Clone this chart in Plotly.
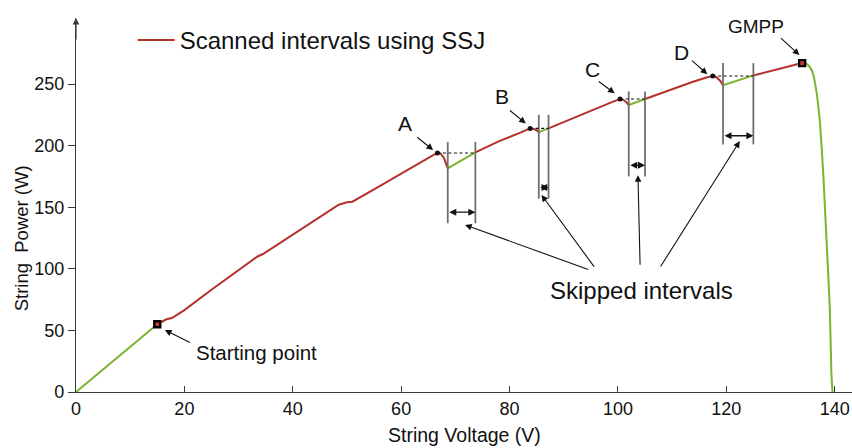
import plotly.graph_objects as go

# ---- P-V curve data (String Voltage in V, String Power in W) ----
# initial ramp up to the starting point
ramp_v = [0, 15.0]
ramp_p = [0, 55.0]

# scanned segments (SSJ), each ends with the drop after the local peak
scan1_v = [15.0, 16.7, 17.7, 20, 25, 30, 32.5, 33.5, 34.5, 40, 45, 48.5, 50, 51, 55, 60, 64, 66, 66.7, 67.3, 67.9, 68.3, 68.6]
scan1_p = [55.0, 59, 60, 66.5, 83, 99, 107, 110, 112, 127.5, 142, 152, 154, 154.5, 164.5, 177.5, 188, 192.5, 194, 193.5, 190, 186, 181.5]
scan2_v = [73.7, 78, 82, 83.8, 84.5, 85.0, 85.4]
scan2_p = [194.5, 203.5, 210.5, 214, 213.5, 212.5, 211]
scan3_v = [87.2, 92, 96, 99, 100.4, 101.0, 101.6, 102.0]
scan3_p = [214, 223, 230.5, 235.5, 237.8, 237.2, 235, 233]
scan4_v = [105.0, 110, 114, 116.5, 117.5, 118.2, 118.9, 119.4]
scan4_p = [237.8, 246, 252, 255.5, 256.5, 255.5, 252.5, 249]
scan5_v = [125.0, 130, 134.0]
scan5_p = [257, 262.5, 267]

# skipped segments
skip_v = [[68.6, 73.7], [85.4, 87.2], [102.0, 105.0], [119.4, 125.0]]
skip_p = [[181.5, 194.5], [211, 214], [233, 237.8], [249, 257]]

# tail after the GMPP down to open-circuit voltage
tail_v = [134.0, 134.6, 135.1, 135.6, 136.0, 136.6, 137.3, 137.9, 138.5, 139.1, 139.4, 139.6]
tail_p = [267, 267, 265.4, 262.5, 258.6, 245, 218, 177, 123, 69, 15, 0]

# local peaks A-D before each skipped interval
peak_names = ["A", "B", "C", "D"]
peak_v = [66.7, 83.8, 100.4, 117.5]
peak_p = [194, 214, 237.8, 256.5]

# bracket extents (W) around each skipped interval
bracket_top = [203, 225, 244, 267]
bracket_bottom = [137, 157, 175, 201]
bracket_arrow = [146, 166, 184, 208]

start_pt = (15.0, 55.0)
gmpp_pt = (134.0, 267.0)

x_ticks = [0, 20, 40, 60, 80, 100, 120, 140]
y_ticks = [0, 50, 100, 150, 200, 250]

RED = "#b5312c"
GREEN = "#79b52e"
GRAY = "#6f6f6f"
INK = "#111111"
AXIS = "#3a3a3a"
TXT_FONT = "Liberation Sans, Arial, sans-serif"


def joined(xs_list, ys_list):
    xs, ys = [], []
    for a, b in zip(xs_list, ys_list):
        xs += list(a) + [None]
        ys += list(b) + [None]
    return xs, ys


fig = go.Figure()

# skipped (green) parts
gx, gy = joined([ramp_v] + skip_v + [tail_v], [ramp_p] + skip_p + [tail_p])
fig.add_trace(go.Scatter(x=gx, y=gy, mode="lines", line=dict(color=GREEN, width=2, shape="spline", smoothing=0.4),
                         showlegend=False, hoverinfo="skip"))

# scanned (red) parts
rx, ry = joined([scan1_v, scan2_v, scan3_v, scan4_v, scan5_v],
                [scan1_p, scan2_p, scan3_p, scan4_p, scan5_p])
fig.add_trace(go.Scatter(x=rx, y=ry, mode="lines", line=dict(color=RED, width=2),
                         name="Scanned intervals using SSJ"))

# vertical brackets around the skipped intervals
bx, by = [], []
for (v0, v1), lo, hi in zip(skip_v, bracket_bottom, bracket_top):
    bx += [v0, v0, None, v1, v1, None]
    by += [hi, lo, None, hi, lo, None]
fig.add_trace(go.Scatter(x=bx, y=by, mode="lines", line=dict(color=GRAY, width=1.8),
                         showlegend=False, hoverinfo="skip"))

# dashed reference level from each peak to the end of its skipped interval
dx, dy = [], []
for pv, pp, (v0, v1) in zip(peak_v, peak_p, skip_v):
    dx += [pv, v1, None]
    dy += [pp, pp, None]
fig.add_trace(go.Scatter(x=dx, y=dy, mode="lines",
                         line=dict(color=INK, width=1.1, dash="3px,2.5px"),
                         showlegend=False, hoverinfo="skip"))

# peak dots
fig.add_trace(go.Scatter(x=peak_v, y=peak_p, mode="markers",
                         marker=dict(color=INK, size=5), showlegend=False, hoverinfo="skip"))

# starting point and GMPP squares
fig.add_trace(go.Scatter(x=[start_pt[0], gmpp_pt[0]], y=[start_pt[1], gmpp_pt[1]], mode="markers",
                         marker=dict(symbol="square", size=6, color="#d03a2f",
                                     line=dict(color="#000000", width=2.4)),
                         showlegend=False, hoverinfo="skip"))

ann = []


def arrow(x, y, ax, ay, width=1.1, head=2, size=1.2, side="end"):
    ann.append(dict(x=x, y=y, ax=ax, ay=ay, xref="x", yref="y", axref="x", ayref="y",
                    text="", showarrow=True, arrowhead=head, arrowsize=size,
                    arrowwidth=width, arrowcolor=INK, arrowside=side,
                    startarrowhead=head, startarrowsize=size, standoff=0, startstandoff=0))


def label(x, y, text, size, xanchor="center"):
    ann.append(dict(x=x, y=y, xref="x", yref="y", text=text, showarrow=False,
                    xanchor=xanchor, yanchor="middle",
                    font=dict(family=TXT_FONT, size=size, color=INK)))


# double arrows spanning each skipped interval
for (v0, v1), lvl in zip(skip_v, bracket_arrow):
    arrow(v1, lvl, v0, lvl, width=1.4, head=2, size=1.0, side="end+start")

# peak labels A-D with their pointer arrows
label_pos = [(60.7, 218), (78.6, 240), (95.4, 262), (111.8, 276)]
pointer_tail = [(62.7, 207.8), (79.8, 229.5), (96.2, 253), (113.4, 270)]
pointer_head = [(65.9, 196.4), (83.0, 218), (99.4, 242.5), (116.5, 258)]
for name, (lx, ly), (tx, ty), (hx, hy) in zip(peak_names, label_pos, pointer_tail, pointer_head):
    label(lx, ly, name, 21)
    arrow(hx, hy, tx, ty)

# GMPP
label(125.5, 297, "GMPP", 19)
arrow(133.5, 273.5, 129.8, 288.4)

# starting point
label(21.7, 31.7, "Starting point", 20.5, xanchor="left")
arrow(16.4, 50.3, 21.3, 39.5)

# skipped intervals callout
label(104.4, 82.8, "Skipped intervals", 24)
skip_tail = [(94.8, 99), (95.8, 100.6), (104.1, 102), (107.7, 100.6)]
skip_head = [(71.8, 135.6), (85.9, 160), (103.7, 176), (122.5, 203.7)]
for (tx, ty), (hx, hy) in zip(skip_tail, skip_head):
    arrow(hx, hy, tx, ty)

# arrow on top of the power axis
ann.append(dict(x=0, y=303.6, ax=0, ay=285, xref="x", yref="y", axref="x", ayref="y",
                text="", showarrow=True, arrowhead=2, arrowsize=1.1, arrowwidth=1.2,
                arrowcolor=AXIS, standoff=0))

# axis titles
ann.append(dict(x=0.5, y=-0.115, xref="paper", yref="paper", text="String Voltage (V)",
                showarrow=False, xanchor="center", yanchor="middle",
                font=dict(family=TXT_FONT, size=19.5, color=INK)))
ann.append(dict(x=-0.07, y=0.41, xref="paper", yref="paper", text="String  Power (W)",
                showarrow=False, textangle=-90, xanchor="center", yanchor="middle",
                font=dict(family=TXT_FONT, size=18.5, color=INK)))

fig.update_layout(
    width=852, height=448,
    margin=dict(l=76, r=0, t=18, b=56),
    paper_bgcolor="white", plot_bgcolor="white",
    annotations=ann,
    showlegend=True,
    legend=dict(x=0.073, y=1.0, xanchor="left", yanchor="top",
                bgcolor="rgba(0,0,0,0)", borderwidth=0, itemwidth=37,
                font=dict(family=TXT_FONT, size=24, color=INK)),
    xaxis=dict(range=[0, 143.2], tickvals=x_ticks, ticks="inside", ticklen=6,
               tickcolor=AXIS, showline=True, linecolor=AXIS, linewidth=1.2,
               showgrid=False, zeroline=False,
               tickfont=dict(family=TXT_FONT, size=18, color=INK)),
    yaxis=dict(range=[0, 303.6], tickvals=y_ticks, ticks="outside", ticklen=7,
               tickcolor=AXIS, showline=True, linecolor=AXIS, linewidth=1.2,
               showgrid=False, zeroline=False,
               tickfont=dict(family=TXT_FONT, size=18, color=INK)),
)

fig.write_html("out.html")
